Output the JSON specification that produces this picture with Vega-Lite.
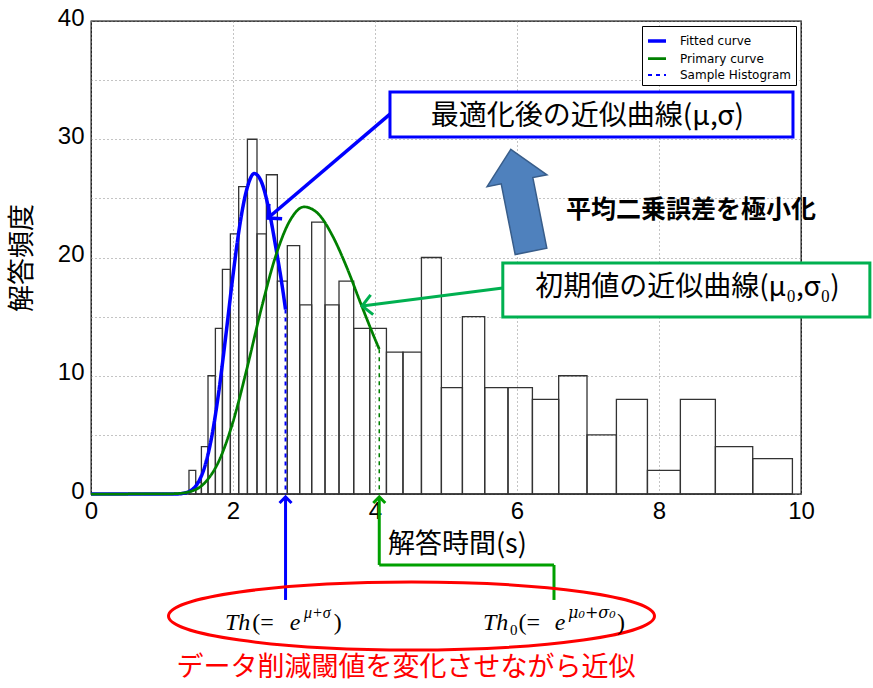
{
  "$schema": "https://vega.github.io/schema/vega-lite/v6.json",
  "width": 710,
  "height": 473,
  "autosize": {"type": "none"},
  "padding": {"left": 91, "top": 21, "right": 72, "bottom": 194},
  "background": "white",
  "config": {
    "view": {"stroke": "#000", "strokeWidth": 1.3},
    "font": "Noto Sans CJK JP"
  },
  "datasets": {
    "bins": [
      {"start": 1.380, "end": 1.475, "count": 2},
      {"start": 1.475, "end": 1.555, "count": 1},
      {"start": 1.555, "end": 1.648, "count": 4},
      {"start": 1.648, "end": 1.752, "count": 10},
      {"start": 1.752, "end": 1.851, "count": 14},
      {"start": 1.851, "end": 1.963, "count": 19},
      {"start": 1.963, "end": 2.080, "count": 22},
      {"start": 2.080, "end": 2.203, "count": 26},
      {"start": 2.203, "end": 2.338, "count": 30},
      {"start": 2.338, "end": 2.470, "count": 22},
      {"start": 2.470, "end": 2.625, "count": 27},
      {"start": 2.625, "end": 2.765, "count": 18},
      {"start": 2.765, "end": 2.939, "count": 21},
      {"start": 2.939, "end": 3.108, "count": 16},
      {"start": 3.108, "end": 3.296, "count": 23},
      {"start": 3.296, "end": 3.493, "count": 16},
      {"start": 3.493, "end": 3.700, "count": 18},
      {"start": 3.700, "end": 3.925, "count": 14},
      {"start": 3.925, "end": 4.161, "count": 14},
      {"start": 4.161, "end": 4.394, "count": 12},
      {"start": 4.394, "end": 4.654, "count": 12},
      {"start": 4.654, "end": 4.935, "count": 20},
      {"start": 4.935, "end": 5.231, "count": 9},
      {"start": 5.231, "end": 5.545, "count": 15},
      {"start": 5.545, "end": 5.873, "count": 9},
      {"start": 5.873, "end": 6.217, "count": 9},
      {"start": 6.217, "end": 6.587, "count": 8},
      {"start": 6.587, "end": 6.986, "count": 10},
      {"start": 6.986, "end": 7.400, "count": 5},
      {"start": 7.400, "end": 7.837, "count": 8},
      {"start": 7.837, "end": 8.301, "count": 2},
      {"start": 8.301, "end": 8.794, "count": 8},
      {"start": 8.794, "end": 9.320, "count": 4},
      {"start": 9.320, "end": 9.879, "count": 3}
    ],
    "curves": [
      {"series": "Fitted curve", "x": 0, "y": 0},
      {"series": "Fitted curve", "x": 0.5, "y": 0},
      {"series": "Fitted curve", "x": 1.0, "y": 0},
      {"series": "Fitted curve", "x": 1.2, "y": 0.004},
      {"series": "Fitted curve", "x": 1.3, "y": 0.06},
      {"series": "Fitted curve", "x": 1.4, "y": 0.27},
      {"series": "Fitted curve", "x": 1.5, "y": 0.88},
      {"series": "Fitted curve", "x": 1.6, "y": 2.28},
      {"series": "Fitted curve", "x": 1.7, "y": 4.83},
      {"series": "Fitted curve", "x": 1.8, "y": 8.65},
      {"series": "Fitted curve", "x": 1.9, "y": 13.45},
      {"series": "Fitted curve", "x": 2.0, "y": 18.5},
      {"series": "Fitted curve", "x": 2.1, "y": 22.9},
      {"series": "Fitted curve", "x": 2.2, "y": 25.9},
      {"series": "Fitted curve", "x": 2.3, "y": 27.1},
      {"series": "Fitted curve", "x": 2.4, "y": 26.4},
      {"series": "Fitted curve", "x": 2.5, "y": 24.2},
      {"series": "Fitted curve", "x": 2.6, "y": 20.96},
      {"series": "Fitted curve", "x": 2.7, "y": 17.3},
      {"series": "Fitted curve", "x": 2.74, "y": 15.6},
      {"series": "Primary curve", "x": 0, "y": 0},
      {"series": "Primary curve", "x": 0.5, "y": 0},
      {"series": "Primary curve", "x": 1.0, "y": 0.001},
      {"series": "Primary curve", "x": 1.2, "y": 0.03},
      {"series": "Primary curve", "x": 1.4, "y": 0.21},
      {"series": "Primary curve", "x": 1.6, "y": 0.93},
      {"series": "Primary curve", "x": 1.8, "y": 2.77},
      {"series": "Primary curve", "x": 2.0, "y": 6.1},
      {"series": "Primary curve", "x": 2.2, "y": 10.7},
      {"series": "Primary curve", "x": 2.4, "y": 15.7},
      {"series": "Primary curve", "x": 2.6, "y": 20.1},
      {"series": "Primary curve", "x": 2.8, "y": 23.1},
      {"series": "Primary curve", "x": 3.0, "y": 24.28},
      {"series": "Primary curve", "x": 3.2, "y": 23.7},
      {"series": "Primary curve", "x": 3.4, "y": 21.85},
      {"series": "Primary curve", "x": 3.6, "y": 19.2},
      {"series": "Primary curve", "x": 3.8, "y": 16.1},
      {"series": "Primary curve", "x": 4.0, "y": 13.1},
      {"series": "Primary curve", "x": 4.06, "y": 12.25}
    ],
    "threshold": [
      {"series": "Sample Histogram", "x": 2.74, "y": 15.6},
      {"series": "Sample Histogram", "x": 2.74, "y": 0}
    ]
  },
  "layer": [
    {
      "data": {"name": "bins"},
      "mark": {"type": "rect", "fillOpacity": 0, "stroke": "#333", "strokeWidth": 1.3},
      "encoding": {
        "x": {
          "field": "start", "type": "quantitative",
          "scale": {"domain": [0, 10], "nice": false, "zero": false},
          "axis": {
            "title": null, "values": [0, 2, 4, 6, 8, 10], "format": "d", "grid": true,
            "gridDash": [1, 3], "gridColor": "#888", "gridWidth": 1,
            "domain": false, "ticks": false, "labelFontSize": 24,
            "labelFont": "Liberation Sans", "labelColor": "#000", "labelPadding": 5,
            "labelFlush": false
          }
        },
        "x2": {"field": "end"},
        "y": {
          "field": "count", "type": "quantitative",
          "scale": {"domain": [0, 40], "nice": false},
          "axis": {
            "title": "解答頻度", "titleFontSize": 27, "titleFontWeight": "normal",
            "titleFont": "Noto Sans CJK JP", "titleColor": "#000", "titlePadding": 21,
            "values": [0, 5, 10, 15, 20, 25, 30, 35, 40],
            "labelExpr": "datum.value % 10 === 0 ? datum.label : ''",
            "grid": true, "gridDash": [1, 3], "gridColor": "#888", "gridWidth": 1,
            "domain": false, "ticks": false, "labelFontSize": 24,
            "labelFont": "Liberation Sans", "labelColor": "#000", "labelPadding": 7,
            "labelOffset": -3, "labelFlush": false
          }
        },
        "y2": {"datum": 0}
      }
    },
    {
      "data": {"name": "curves"},
      "mark": {"type": "line", "interpolate": "monotone"},
      "encoding": {
        "x": {"field": "x", "type": "quantitative"},
        "y": {"field": "y", "type": "quantitative"},
        "color": {
          "field": "series", "type": "nominal",
          "scale": {"domain": ["Fitted curve", "Primary curve", "Sample Histogram"], "range": ["#0000FF", "#008000", "#0000FF"]},
          "legend": {
            "title": null, "orient": "top-right", "offset": 5, "fillColor": "white",
            "strokeColor": "#000", "padding": 4, "symbolType": "stroke", "symbolSize": 324,
            "symbolStrokeWidth": 2.5, "labelFontSize": 12, "labelFont": "DejaVu Sans",
            "labelColor": "#000", "rowPadding": 0, "labelOffset": 12
          }
        },
        "strokeDash": {
          "field": "series", "type": "nominal",
          "scale": {"domain": ["Fitted curve", "Primary curve", "Sample Histogram"], "range": [[1, 0], [1, 0], [4, 4]]}
        },
        "strokeWidth": {
          "field": "series", "type": "nominal",
          "scale": {"domain": ["Fitted curve", "Primary curve", "Sample Histogram"], "range": [3.5, 2, 1.5]},
          "legend": null
        }
      }
    },
    {
      "data": {"name": "threshold"},
      "mark": {"type": "line"},
      "encoding": {
        "x": {"field": "x", "type": "quantitative"},
        "y": {"field": "y", "type": "quantitative"},
        "color": {"field": "series", "type": "nominal"},
        "strokeDash": {"field": "series", "type": "nominal"},
        "strokeWidth": {"field": "series", "type": "nominal", "legend": null}
      }
    },
    {
      "data": {"values": [{}]},
      "layer": [
        {
          "mark": {"type": "rule", "color": "#008000", "strokeWidth": 1.5, "strokeDash": [4, 4]},
          "encoding": {"x": {"datum": 4.06}, "y": {"datum": 12.25}, "y2": {"datum": 0}}
        },
        {
          "mark": {"type": "rule", "color": "#0000FF", "strokeWidth": 3.5},
          "encoding": {"x": {"datum": 4.211}, "y": {"datum": 32.13}, "x2": {"datum": 2.493}, "y2": {"datum": 23.34}}
        },
        {
          "mark": {"type": "point", "shape": "M-1,1 L0,0 L1,1", "filled": false, "size": 400, "angle": 228.5, "stroke": "#0000FF", "strokeWidth": 3.5, "opacity": 1},
          "encoding": {"x": {"datum": 2.493}, "y": {"datum": 23.34}}
        },
        {
          "mark": {"type": "rect", "fill": "white", "stroke": "#0000FF", "strokeWidth": 3},
          "encoding": {"x": {"datum": 4.211}, "x2": {"datum": 9.887}, "y": {"datum": 34.0}, "y2": {"datum": 30.19}}
        },
        {
          "mark": {"type": "text", "text": "最適化後の近似曲線(μ,σ)", "fontSize": 28, "font": "Noto Sans CJK JP", "color": "#000", "align": "center", "baseline": "middle"},
          "encoding": {"x": {"datum": 6.99}, "y": {"datum": 31.88}}
        },
        {
          "mark": {"type": "point", "shape": "M0,-1 L0.587,-0.385 L0.31,-0.385 L0.31,1 L-0.31,1 L-0.31,-0.385 L-0.587,-0.385 Z", "filled": true, "size": 10816, "angle": -11.2, "fill": "#4F81BD", "stroke": "#385D8A", "strokeWidth": 1.5, "opacity": 1},
          "encoding": {"x": {"datum": 6.055}, "y": {"datum": 24.83}}
        },
        {
          "mark": {"type": "text", "text": "平均二乗誤差を極小化", "fontSize": 25, "fontWeight": "bold", "font": "Noto Sans CJK JP", "color": "#000", "align": "center", "baseline": "middle"},
          "encoding": {"x": {"datum": 8.45}, "y": {"datum": 24.02}}
        },
        {
          "mark": {"type": "rule", "color": "#00B050", "strokeWidth": 3},
          "encoding": {"x": {"datum": 5.80}, "y": {"datum": 17.42}, "x2": {"datum": 3.817}, "y2": {"datum": 15.90}}
        },
        {
          "mark": {"type": "point", "shape": "M-1,1 L0,0 L1,1", "filled": false, "size": 400, "angle": 262.7, "stroke": "#00B050", "strokeWidth": 3, "opacity": 1},
          "encoding": {"x": {"datum": 3.817}, "y": {"datum": 15.90}}
        },
        {
          "mark": {"type": "rect", "fill": "white", "stroke": "#00B050", "strokeWidth": 3},
          "encoding": {"x": {"datum": 5.80}, "x2": {"datum": 10.97}, "y": {"datum": 19.53}, "y2": {"datum": 14.97}}
        },
        {
          "mark": {"type": "text", "text": "初期値の近似曲線(μ₀,σ₀)", "fontSize": 28, "font": "Noto Sans CJK JP", "color": "#000", "align": "center", "baseline": "middle"},
          "encoding": {"x": {"datum": 8.40}, "y": {"datum": 17.42}}
        },
        {
          "mark": {"type": "rule", "color": "#0000FF", "strokeWidth": 3},
          "encoding": {"x": {"datum": 2.74}, "y": {"datum": -8.96}, "y2": {"datum": -0.25}}
        },
        {
          "mark": {"type": "point", "shape": "M-1,1 L0,0 L1,1", "filled": false, "size": 144, "angle": 0, "stroke": "#0000FF", "strokeWidth": 3, "opacity": 1},
          "encoding": {"x": {"datum": 2.74}, "y": {"datum": -0.25}}
        },
        {
          "mark": {"type": "rule", "color": "#00A000", "strokeWidth": 3},
          "encoding": {"x": {"datum": 4.06}, "y": {"datum": -6.0}, "y2": {"datum": -0.25}}
        },
        {
          "mark": {"type": "rule", "color": "#00A000", "strokeWidth": 3},
          "encoding": {"x": {"datum": 4.06}, "x2": {"datum": 6.521}, "y": {"datum": -6.0}}
        },
        {
          "mark": {"type": "rule", "color": "#00A000", "strokeWidth": 3},
          "encoding": {"x": {"datum": 6.521}, "y": {"datum": -6.0}, "y2": {"datum": -8.96}}
        },
        {
          "mark": {"type": "point", "shape": "M-1,1 L0,0 L1,1", "filled": false, "size": 144, "angle": 0, "stroke": "#00A000", "strokeWidth": 3, "opacity": 1},
          "encoding": {"x": {"datum": 4.06}, "y": {"datum": -0.25}}
        },
        {
          "mark": {"type": "text", "text": "解答時間(s)", "fontSize": 27, "font": "Noto Sans CJK JP", "color": "#000", "align": "left", "baseline": "middle"},
          "encoding": {"x": {"datum": 4.183}, "y": {"datum": -4.31}}
        },
        {
          "mark": {"type": "point", "shape": "M-1,0 C-1,-0.0773 -0.5523,-0.14 0,-0.14 C0.5523,-0.14 1,-0.0773 1,0 C1,0.0773 0.5523,0.14 0,0.14 C-0.5523,0.14 -1,0.0773 -1,0 Z", "filled": false, "size": 236196, "stroke": "#FF0000", "strokeWidth": 3, "opacity": 1},
          "encoding": {"x": {"datum": 4.514}, "y": {"datum": -10.32}}
        },
        {
          "mark": {"type": "text", "text": "Th", "fontSize": 24, "font": "Liberation Serif", "fontStyle": "italic", "color": "#000", "align": "left", "baseline": "alphabetic"},
          "encoding": {"x": {"datum": 1.887}, "y": {"datum": -11.50}}
        },
        {
          "mark": {"type": "text", "text": "(=", "fontSize": 24, "font": "Liberation Serif", "color": "#000", "align": "left", "baseline": "alphabetic"},
          "encoding": {"x": {"datum": 2.27}, "y": {"datum": -11.50}}
        },
        {
          "mark": {"type": "text", "text": "e", "fontSize": 24, "font": "Liberation Serif", "fontStyle": "italic", "color": "#000", "align": "left", "baseline": "alphabetic"},
          "encoding": {"x": {"datum": 2.80}, "y": {"datum": -11.50}}
        },
        {
          "mark": {"type": "text", "text": "μ+σ", "fontSize": 16, "font": "Liberation Serif", "fontStyle": "italic", "color": "#000", "align": "left", "baseline": "alphabetic"},
          "encoding": {"x": {"datum": 3.0}, "y": {"datum": -10.5}}
        },
        {
          "mark": {"type": "text", "text": ")", "fontSize": 24, "font": "Liberation Serif", "color": "#000", "align": "left", "baseline": "alphabetic"},
          "encoding": {"x": {"datum": 3.42}, "y": {"datum": -11.50}}
        },
        {
          "mark": {"type": "text", "text": "Th", "fontSize": 24, "font": "Liberation Serif", "fontStyle": "italic", "color": "#000", "align": "left", "baseline": "alphabetic"},
          "encoding": {"x": {"datum": 5.52}, "y": {"datum": -11.50}}
        },
        {
          "mark": {"type": "text", "text": "0", "fontSize": 15, "font": "Liberation Serif", "color": "#000", "align": "left", "baseline": "alphabetic"},
          "encoding": {"x": {"datum": 5.90}, "y": {"datum": -11.92}}
        },
        {
          "mark": {"type": "text", "text": "(=", "fontSize": 24, "font": "Liberation Serif", "color": "#000", "align": "left", "baseline": "alphabetic"},
          "encoding": {"x": {"datum": 6.02}, "y": {"datum": -11.50}}
        },
        {
          "mark": {"type": "text", "text": "e", "fontSize": 24, "font": "Liberation Serif", "fontStyle": "italic", "color": "#000", "align": "left", "baseline": "alphabetic"},
          "encoding": {"x": {"datum": 6.53}, "y": {"datum": -11.50}}
        },
        {
          "mark": {"type": "text", "text": "μ₀+σ₀", "fontSize": 16, "font": "DejaVu Serif", "fontStyle": "italic", "color": "#000", "align": "left", "baseline": "alphabetic"},
          "encoding": {"x": {"datum": 6.72}, "y": {"datum": -10.5}}
        },
        {
          "mark": {"type": "text", "text": ")", "fontSize": 24, "font": "Liberation Serif", "color": "#000", "align": "left", "baseline": "alphabetic"},
          "encoding": {"x": {"datum": 7.41}, "y": {"datum": -11.50}}
        },
        {
          "mark": {"type": "text", "text": "データ削減閾値を変化させながら近似", "fontSize": 27, "font": "Noto Sans CJK JP", "color": "#FF0000", "align": "center", "baseline": "middle"},
          "encoding": {"x": {"datum": 4.437}, "y": {"datum": -14.71}}
        }
      ]
    }
  ]
}
